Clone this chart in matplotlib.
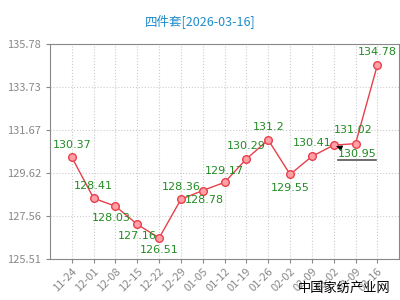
import matplotlib
matplotlib.use("Agg")
import matplotlib.pyplot as plt

plt.rcParams['font.family'] = ['Noto Sans CJK SC', 'DejaVu Sans']

dates = ["11-24", "12-01", "12-08", "12-15", "12-22", "12-29", "01-05", "01-12",
         "01-19", "01-26", "02-02", "02-09", "03-02", "03-09", "03-16"]
values = [130.37, 128.41, 128.03, 127.16, 126.51, 128.36, 128.78, 129.17,
          130.29, 131.2, 129.55, 130.41, 130.95, 131.02, 134.78]
yticks = [125.51, 127.56, 129.62, 131.67, 133.73, 135.78]
# label placement: (dx, dy) in points
offsets = [(0, 9), (0, 8.5), (-3, -8.5), (0, -8), (0, -9), (0, 8.5), (1, -7), (0, 8.5),
           (0, 9), (0, 9), (0, -9.5), (0, 9.5), None, (-2, 10), (0, 9.5)]

fig = plt.figure(figsize=(4, 3), dpi=100)
ax = fig.add_axes([0.125, 0.137, 0.873, 0.716])
x = list(range(len(values)))
ax.plot(x, values, color='#e8404a', lw=1, marker='o', ms=5.5,
        mfc='#ffa0a8', mec='#e8404a', mew=1, zorder=3)
ax.set_xlim(-1, 15)
ax.set_ylim(yticks[0], yticks[-1])
ax.set_yticks(yticks)
ax.set_yticklabels([f"{v:.2f}" for v in yticks])
ax.set_xticks(x)
ax.set_xticklabels(dates, rotation=45, ha='right', rotation_mode='anchor')
ax.tick_params(colors='#888888', labelsize=8, length=3, width=0.8)
ax.tick_params(axis='x', pad=2)
for s in ax.spines.values():
    s.set_color('#888888')
ax.grid(True, color='#cccccc', ls=':', lw=0.8)
for xi, v, off in zip(x, values, offsets):
    lab = f"{v:g}"
    if off is None:
        ax.annotate(lab, xy=(xi, v), xytext=(xi + 0.2, v - 0.68), color='#228b22',
                    fontsize=8, ha='left', va='bottom',
                    arrowprops=dict(arrowstyle='-|>', color='black', lw=0.8,
                                    shrinkA=0, shrinkB=2),
                    family=['DejaVu Sans'])
        ax.plot([xi + 0.2, xi + 1.95], [v - 0.7, v - 0.7], color='#555555', lw=1.2)
    else:
        ax.annotate(lab, xy=(xi, v), xytext=off, textcoords='offset points',
                    color='#228b22', fontsize=8, ha='center', va='center',
                    family=['DejaVu Sans'])
fig.text(0.5, 0.925, "四件套[2026-03-16]", color='#1e8ccb', fontsize=9,
         ha='center', va='center')
fig.text(0.975, 0.04, "中国家纺产业网", color='black', fontsize=9.5,
         ha='right', va='center')
fig.savefig("out.png", dpi=100)
